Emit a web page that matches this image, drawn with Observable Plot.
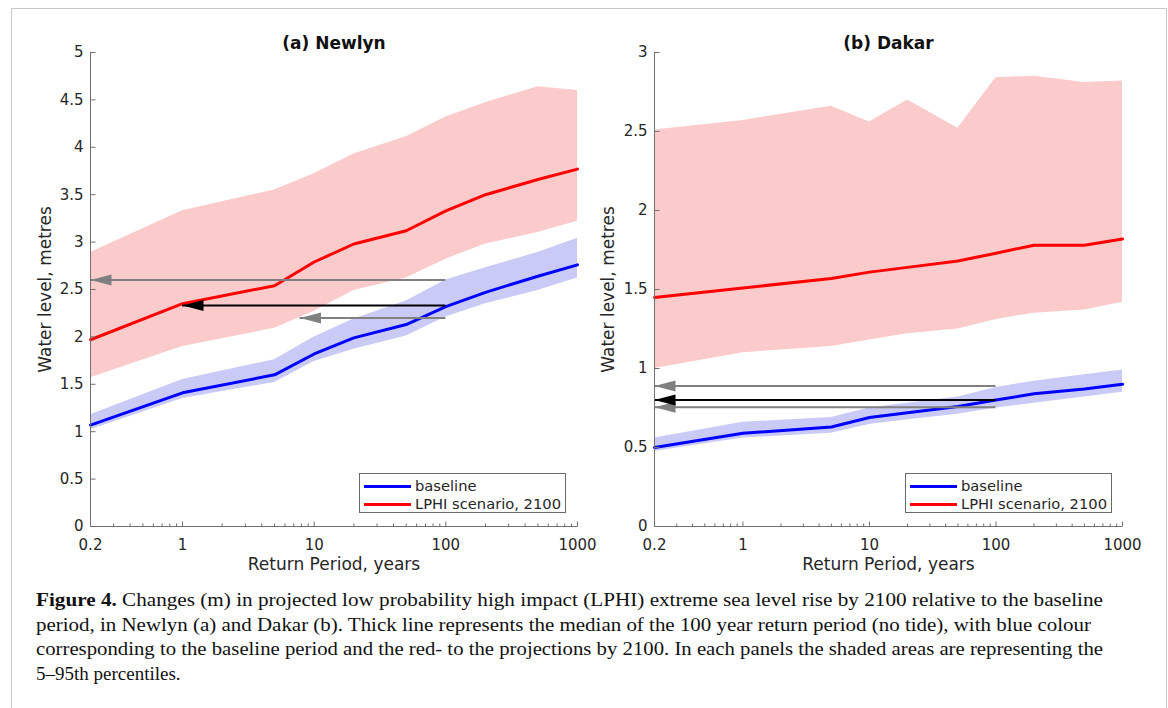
<!DOCTYPE html>
<html><head><meta charset="utf-8">
<script src="https://cdn.jsdelivr.net/npm/d3@7"></script>
<script src="https://cdn.jsdelivr.net/npm/@observablehq/plot@0.6"></script>
<style>
html,body{margin:0;padding:0;background:#fff;}
#root{position:relative;width:1168px;height:708px;overflow:hidden;background:#fff;font-family:"DejaVu Sans",sans-serif;}
#frame{position:absolute;left:11px;top:8px;width:1156px;height:740px;border:1.5px solid #c8c8c8;box-sizing:border-box;}
.panel{position:absolute;top:0;}
.panel svg{overflow:visible;}
.legend{position:absolute;border:1px solid #6a6a6a;background:#fff;box-sizing:border-box;font-size:14.7px;color:#262626;}
.legend .row{position:absolute;left:0;height:18px;}
.legend .swatch{position:absolute;left:4px;width:47px;height:3px;}
.legend .lab{position:absolute;left:55px;top:0;line-height:18px;white-space:nowrap;}
#caption{position:absolute;left:36px;top:588px;font-family:"Liberation Serif",serif;font-size:19px;line-height:24.6px;color:#111;}
#caption .line{white-space:nowrap;transform-origin:0 0;display:block;width:max-content;}
</style>
</head><body>
<div id="root">
  <div id="frame"></div>
  <div id="panelA" class="panel" style="left:0px"></div>
  <div id="panelB" class="panel" style="left:584px"></div>
  <div id="caption"></div>
</div>
<script>
// ---- data ----
const periods = [0.2, 1, 5, 10, 20, 50, 100, 200, 500, 1000];
const xTickValues = [0.2, 1, 10, 100, 1000];
const xMinorTicks = [0.3,0.4,0.5,0.6,0.7,0.8,0.9, 2,3,4,5,6,7,8,9, 20,30,40,50,60,70,80,90, 200,300,400,500,600,700,800,900];
const newlynYTicks = [0, 0.5, 1, 1.5, 2, 2.5, 3, 3.5, 4, 4.5, 5];
const dakarYTicks = [0, 0.5, 1, 1.5, 2, 2.5, 3];

const newlynBaseMed = [1.07, 1.41, 1.60, 1.82, 1.99, 2.13, 2.32, 2.47, 2.64, 2.76];
const newlynBaseLo  = [1.02, 1.35, 1.52, 1.74, 1.87, 2.01, 2.21, 2.35, 2.49, 2.62];
const newlynBaseHi  = [1.18, 1.55, 1.76, 2.00, 2.19, 2.38, 2.60, 2.73, 2.89, 3.04];
const newlynLphiMed = [1.97, 2.35, 2.54, 2.79, 2.98, 3.12, 3.33, 3.50, 3.66, 3.77];
const newlynLphiLo  = [1.57, 1.90, 2.09, 2.27, 2.49, 2.62, 2.82, 2.98, 3.10, 3.22];
const newlynLphiHi  = [2.89, 3.33, 3.55, 3.72, 3.93, 4.11, 4.32, 4.47, 4.64, 4.60];
const newlynArrowY    = [2.60, 2.20, 2.33];
const newlynArrowFrom = [100, 100, 100];
const newlynArrowTo   = [0.2, 7.8, 1];
const newlynArrowCol  = ["#808080", "#808080", "#000000"];

const dakarBaseMed = [0.50, 0.59, 0.63, 0.69, 0.72, 0.76, 0.80, 0.84, 0.87, 0.90];
const dakarBaseLo  = [0.475, 0.56, 0.59, 0.645, 0.675, 0.71, 0.75, 0.78, 0.82, 0.85];
const dakarBaseHi  = [0.56, 0.66, 0.69, 0.75, 0.78, 0.82, 0.88, 0.92, 0.96, 0.99];
const dakarLphiMed = [1.45, 1.51, 1.57, 1.61, 1.64, 1.68, 1.73, 1.78, 1.78, 1.82];
const dakarLphiLo  = [1.00, 1.10, 1.14, 1.18, 1.22, 1.25, 1.31, 1.35, 1.37, 1.42];
const dakarLphiHi  = [2.51, 2.57, 2.66, 2.56, 2.70, 2.52, 2.84, 2.85, 2.81, 2.82];
const dakarArrowY    = [0.89, 0.755, 0.80];
const dakarArrowFrom = [100, 100, 100];
const dakarArrowTo   = [0.2, 0.2, 0.2];
const dakarArrowCol  = ["#808080", "#808080", "#000000"];

const seriesNames = ["baseline", "LPHI scenario, 2100"];
const seriesColors = ["#0000ff", "#ff0000"];
const bandColors = ["#cacaf7", "#fbcaca"];
const xLabel = "Return Period, years";
const yLabel = "Water level, metres";
const captionBold = "Figure 4.";
const captionLines = [
  " Changes (m) in projected low probability high impact (LPHI) extreme sea level rise by 2100 relative to the baseline",
  "period, in Newlyn (a) and Dakar (b). Thick line represents the median of the 100 year return period (no tide), with blue colour",
  "corresponding to the baseline period and the red- to the projections by 2100. In each panels the shaded areas are representing the",
  "5\u201395th percentiles."
];
const captionWidths = [1067, 1055, 1067, null];

// ---- drawing ----
const axisColor = "#707070";
const textColor = "#262626";
const headSymbol = {draw(ctx){ ctx.moveTo(0,0); ctx.lineTo(21,-5.5); ctx.lineTo(21,5.5); ctx.closePath(); }};
const yTickSymbol = {draw(ctx){ ctx.moveTo(0,0); ctx.lineTo(5,0); }};
const xMajorSymbol = {draw(ctx){ ctx.moveTo(0,0); ctx.lineTo(0,-5); }};
const xMinorSymbol = {draw(ctx){ ctx.moveTo(0,0); ctx.lineTo(0,-3); }};

function makePanel(o) {
  const rows = periods.map((p, i) => ({p, bm: o.bm[i], bl: o.bl[i], bh: o.bh[i], lm: o.lm[i], ll: o.ll[i], lh: o.lh[i]}));
  const arrows = o.ay.map((y, i) => ({y, from: o.af[i], to: o.at[i], color: o.ac[i]}));
  return Plot.plot({
    width: 584, height: 590,
    marginLeft: o.ml, marginRight: o.mr, marginTop: 52, marginBottom: 64,
    style: {fontFamily: "DejaVu Sans", fontSize: "15px", color: textColor, background: "transparent", overflow: "visible"},
    x: {type: "log", domain: [0.2, 1000], ticks: xTickValues, tickSize: 0, tickPadding: 13, tickFormat: d => String(d), label: null},
    y: {domain: [0, o.yMax], ticks: o.yTicks, tickSize: 0, tickPadding: 7, tickFormat: d => String(d), label: null},
    color: {type: "identity"},
    marks: [
      Plot.areaY(rows, {x: "p", y1: "ll", y2: "lh", fill: bandColors[1]}),
      Plot.areaY(rows, {x: "p", y1: "bl", y2: "bh", fill: bandColors[0]}),
      Plot.lineY(rows, {x: "p", y: "lm", stroke: seriesColors[1], strokeWidth: 3}),
      Plot.lineY(rows, {x: "p", y: "bm", stroke: seriesColors[0], strokeWidth: 3}),
      Plot.ruleY(arrows, {y: "y", x1: "from", x2: "to", stroke: "color", strokeWidth: 2}),
      Plot.dot(arrows, {x: "to", y: "y", symbol: headSymbol, fill: "color", stroke: "none"}),
      Plot.ruleX([0.2], {stroke: axisColor, strokeWidth: 1}),
      Plot.ruleY([0], {stroke: axisColor, strokeWidth: 1}),
      Plot.dot(o.yTicks, {x: () => 0.2, y: d => d, symbol: yTickSymbol, fill: "none", stroke: axisColor, strokeWidth: 1}),
      Plot.dot(xTickValues, {x: d => d, y: () => 0, symbol: xMajorSymbol, fill: "none", stroke: axisColor, strokeWidth: 1}),
      Plot.dot(xMinorTicks, {x: d => d, y: () => 0, symbol: xMinorSymbol, fill: "none", stroke: axisColor, strokeWidth: 1}),
      Plot.text([o.title], {frameAnchor: "top", dy: -9, lineAnchor: "middle", fontWeight: "bold", fontSize: 17, fill: "#111"}),
      Plot.text([xLabel], {frameAnchor: "bottom", dy: 38, lineAnchor: "middle", fontSize: 17, fill: textColor}),
      Plot.text([yLabel], {frameAnchor: "left", dx: o.ylDx, rotate: -90, textAnchor: "middle", lineAnchor: "middle", fontSize: 17, fill: textColor})
    ]
  });
}

function addLegend(parent, left, top) {
  const lg = document.createElement("div");
  lg.className = "legend";
  Object.assign(lg.style, {left: left + "px", top: top + "px", width: "207px", height: "40px"});
  seriesNames.forEach((name, i) => {
    const row = document.createElement("div");
    row.className = "row";
    row.style.top = (3 + i * 17.5) + "px";
    const sw = document.createElement("div");
    sw.className = "swatch";
    sw.style.background = seriesColors[i];
    sw.style.top = "8px";
    const lab = document.createElement("div");
    lab.className = "lab";
    lab.textContent = name;
    row.appendChild(sw); row.appendChild(lab);
    lg.appendChild(row);
  });
  parent.appendChild(lg);
}

const root = document.getElementById("root");
document.getElementById("panelA").appendChild(makePanel({
  title: "(a) Newlyn", yMax: 5, yTicks: newlynYTicks, ml: 90, mr: 7, ylDx: -45,
  bm: newlynBaseMed, bl: newlynBaseLo, bh: newlynBaseHi, lm: newlynLphiMed, ll: newlynLphiLo, lh: newlynLphiHi,
  ay: newlynArrowY, af: newlynArrowFrom, at: newlynArrowTo, ac: newlynArrowCol
}));
document.getElementById("panelB").appendChild(makePanel({
  title: "(b) Dakar", yMax: 3, yTicks: dakarYTicks, ml: 70, mr: 46, ylDx: -46,
  bm: dakarBaseMed, bl: dakarBaseLo, bh: dakarBaseHi, lm: dakarLphiMed, ll: dakarLphiLo, lh: dakarLphiHi,
  ay: dakarArrowY, af: dakarArrowFrom, at: dakarArrowTo, ac: dakarArrowCol
}));
addLegend(root, 359, 473);
addLegend(root, 905, 473);

const cap = document.getElementById("caption");
captionLines.forEach((t, i) => {
  const d = document.createElement("span");
  d.className = "line";
  if (i === 0) {
    const b = document.createElement("b");
    b.textContent = captionBold;
    d.appendChild(b);
  }
  d.appendChild(document.createTextNode(t));
  cap.appendChild(d);
  if (captionWidths[i]) {
    const w = d.getBoundingClientRect().width;
    d.style.transform = `scaleX(${captionWidths[i] / w})`;
  }
});
</script>
</body></html>
